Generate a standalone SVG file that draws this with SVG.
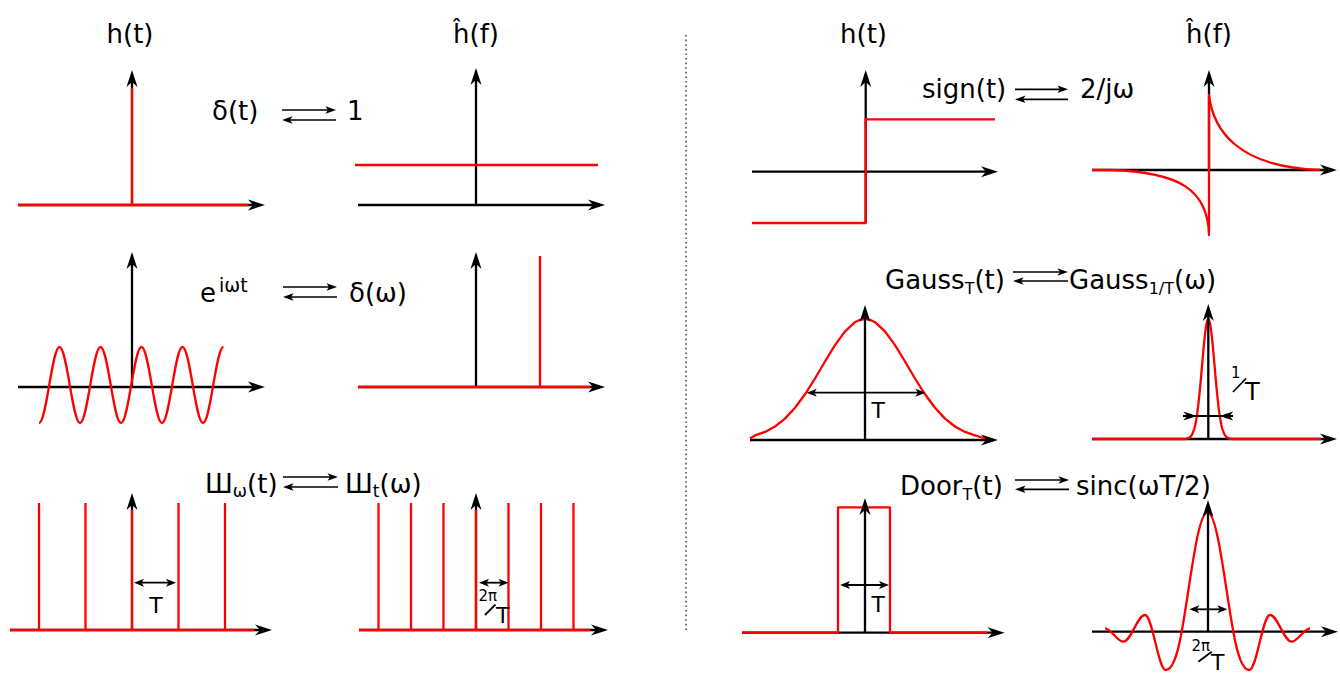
<svg xmlns="http://www.w3.org/2000/svg" width="1340" height="673" viewBox="0 0 1340 673">
<defs>
<style>
.ax{stroke:#000;stroke-width:2.3;fill:none;marker-end:url(#ah)}
.rd{stroke:#ff0000;stroke-width:2.3;fill:none;stroke-linejoin:round}
.dm{stroke:#000;stroke-width:1.8;marker-start:url(#dh);marker-end:url(#dh)}
.cn{stroke:#000;stroke-width:1.7;marker-end:url(#ch)}
.ln{stroke:#000;stroke-width:1.8}
.t{font-family:"DejaVu Sans",sans-serif;font-size:26px;fill:#000}
.s{font-family:"DejaVu Sans",sans-serif;fill:#000}
</style>
<marker id="ah" viewBox="-10 -7 20 14" refX="0" refY="0" markerWidth="20" markerHeight="14" markerUnits="userSpaceOnUse" orient="auto"><path d="M9,0 L-8,-5.5 L-3,0 L-8,5.5 Z" fill="#000"/></marker>
<marker id="ch" viewBox="-8 -5 14 10" refX="0" refY="0" markerWidth="14" markerHeight="10" markerUnits="userSpaceOnUse" orient="auto"><path d="M4,0 L-6.5,-3.8 L-4,0 L-6.5,3.8 Z" fill="#000"/></marker>
<marker id="dh" viewBox="-7 -5 12 10" refX="0" refY="0" markerWidth="12" markerHeight="10" markerUnits="userSpaceOnUse" orient="auto-start-reverse"><path d="M4,0 L-6,-4 L-3.5,0 L-6,4 Z" fill="#000"/></marker>
</defs>
<rect width="1340" height="673" fill="#fff"/>

<line id="divider" x1="686" y1="35" x2="686" y2="632" stroke="#333" stroke-width="1.4" stroke-dasharray="1.6 3"/>

<g id="delta-time">
<line class="ax" x1="18" y1="205" x2="256" y2="205"/>
<line class="ax" x1="132" y1="205" x2="132" y2="79"/>
<path class="rd" d="M18,205 H248 M132,205 V88"/>
<text class="t" x="130" y="43" text-anchor="middle">h(t)</text>
</g>

<g id="delta-freq">
<line class="ax" x1="358" y1="205" x2="596" y2="205"/>
<line class="ax" x1="476" y1="205" x2="476" y2="77"/>
<path class="rd" d="M355,165 H598"/>
<text class="t" x="476" y="43" text-anchor="middle">ĥ(f)</text>
</g>

<g id="exp-time">
<line class="ax" x1="18" y1="387" x2="256" y2="387"/>
<line class="ax" x1="132" y1="387" x2="132" y2="261"/>
<path class="rd" d="M39,423 C46.5,423 52,347 59.5,347 S72.5,423 80,423 S93,347 100.5,347 S113.5,423 121,423 S134,347 141.5,347 S154.5,423 162,423 S175,347 182.5,347 S195.5,423 203,423 S216,347 223.5,347"/>
</g>

<g id="exp-freq">
<line class="ax" x1="358" y1="387" x2="596" y2="387"/>
<line class="ax" x1="476" y1="387" x2="476" y2="261"/>
<path class="rd" d="M358,387 H590 M540,387 V256"/>
</g>

<g id="comb-time">
<line class="ax" x1="10" y1="630" x2="263" y2="630"/>
<line class="ax" x1="132" y1="630" x2="132" y2="502"/>
<path class="rd" d="M10,630 H254 M39,630 V503 M85.5,630 V503 M132,630 V510 M178.5,630 V503 M225,630 V503"/>
<line class="dm" x1="138" y1="582.7" x2="172" y2="582.7"/>
<text class="s" font-size="22" x="156" y="613" text-anchor="middle">T</text>
</g>

<g id="comb-freq">
<line class="ax" x1="359" y1="630" x2="599" y2="630"/>
<line class="ax" x1="476" y1="630" x2="476" y2="502"/>
<path class="rd" d="M359,630 H590 M378.5,630 V503 M411,630 V503 M443.5,630 V503 M476,630 V510 M508.5,630 V503 M541,630 V503 M573.5,630 V503"/>
<line class="dm" x1="483" y1="582.7" x2="504.5" y2="582.7"/>
<text class="s" font-size="15" x="478.5" y="601">2π</text>
<line class="ln" x1="485" y1="615" x2="495.5" y2="604.5"/>
<text class="s" font-size="22" x="496" y="623">T</text>
</g>

<g id="sign-time">
<line class="ax" x1="752" y1="171.7" x2="989" y2="171.7"/>
<line class="ax" x1="865.7" y1="223" x2="865.7" y2="79"/>
<path class="rd" d="M752,223 H865.7 V119.3 H995"/>
<text class="t" x="863.5" y="43" text-anchor="middle">h(t)</text>
</g>

<g id="sign-freq">
<line class="ax" x1="1092" y1="170" x2="1328" y2="170"/>
<line class="ax" x1="1209" y1="170" x2="1209" y2="79"/>
<path class="rd" d="M1092,170 H1110 C1180,172 1208,190 1209,235 V95 C1213,128 1235,167 1320,170"/>
<text class="t" x="1209" y="43" text-anchor="middle">ĥ(f)</text>
</g>

<g id="gauss-time">
<line class="ax" x1="750" y1="440" x2="989" y2="440"/>
<polyline class="rd" points="750,438.5 755,435.4 765,431.9 775,426.5 785,418.6 795,407.8 805,394.3 815,378.5 825,361.5 835,345.1 845,331.4 855,322.2 860,319.8 865,319 870,319.8 875,322.2 885,331.4 895,345.1 905,361.5 915,378.5 925,394.3 935,407.8 945,418.6 955,426.5 965,431.9 975,435.4 985,438.5"/>
<line class="ax" x1="865" y1="440" x2="865" y2="314"/>
<line class="dm" x1="810.7" y1="392.7" x2="921.4" y2="392.7"/>
<text class="s" font-size="22" x="871.5" y="418">T</text>
</g>

<g id="gauss-freq">
<line class="ax" x1="1092" y1="439" x2="1328" y2="439"/>
<path class="rd" d="M1092,439 H1185.3 L1188.3,438.2 L1190.3,437 L1192.3,434.2 L1194.3,428.8 L1195.3,424.7 L1196.3,419.4 L1197.3,412.9 L1198.3,404.9 L1199.3,395.7 L1200.3,385.4 L1201.3,374.3 L1202.3,362.7 L1203.3,351.4 L1204.3,340.9 L1205.3,331.9 L1206.3,324.9 L1207.3,320.5 L1208.3,319 L1209.3,320.5 L1210.3,324.9 L1211.3,331.9 L1212.3,340.9 L1213.3,351.4 L1214.3,362.7 L1215.3,374.3 L1216.3,385.4 L1217.3,395.7 L1218.3,404.9 L1219.3,412.9 L1220.3,419.4 L1221.3,424.7 L1222.3,428.8 L1224.3,434.2 L1226.3,437 L1228.3,438.2 L1231.3,439 H1321"/>
<line class="ax" x1="1208.3" y1="439" x2="1208.3" y2="313"/>
<line class="ln" x1="1183" y1="416" x2="1233" y2="416"/>
<path d="M1197,416 L1183.5,411.5 L1187,416 L1183.5,420.5 Z M1219.6,416 L1233.1,411.5 L1229.6,416 L1233.1,420.5 Z" fill="#000"/>
<text class="s" font-size="15" x="1231" y="378">1</text>
<line class="ln" x1="1233" y1="392" x2="1246" y2="378.5"/>
<text class="s" font-size="24" x="1245" y="400">T</text>
</g>

<g id="door-time">
<line class="ax" x1="742" y1="632.7" x2="995.6" y2="632.7"/>
<path class="rd" d="M742,632.7 H838 V507.3 H890 V632.7 H987"/>
<line class="ax" x1="865" y1="632.7" x2="865" y2="507"/>
<line class="dm" x1="844" y1="585" x2="885" y2="585"/>
<text class="s" font-size="22" x="871.5" y="612">T</text>
</g>

<g id="sinc-freq">
<line class="ax" x1="1092" y1="631.7" x2="1329" y2="631.7"/>
<path class="rd" d="M1105,628.3 C1111,628.5 1117.3,641.7 1123.3,641.7 C1131.1,641.7 1137.2,615 1145,615 C1152.5,615 1158.2,670 1165.7,670 C1171.7,670 1176.7,659.2 1181.7,631.7 C1190.2,584.95 1197.5,512.3 1207.5,512.3 C1217.5,512.3 1224.8,584.95 1233.3,631.7 C1238.3,659.2 1243.3,670 1249.3,670 C1256.8,670 1262.5,615 1270,615 C1277.8,615 1283.9,641.7 1291.7,641.7 C1297.7,641.7 1304,628.5 1310,628.3"/>
<line class="ax" x1="1208" y1="631.7" x2="1208" y2="509"/>
<line class="dm" x1="1193.3" y1="609.3" x2="1223.3" y2="609.3"/>
<text class="s" font-size="15" x="1191.5" y="650.5">2π</text>
<line class="ln" x1="1198.3" y1="661.7" x2="1211.7" y2="651.7"/>
<text class="s" font-size="22" x="1211" y="670">T</text>
</g>

<g id="formulas">
<text class="t" x="212" y="120">δ(t)</text>
<text class="t" x="347" y="119.5">1</text>
<text class="t" x="200" y="302">e</text>
<text class="s" font-size="19" x="219" y="292">iωt</text>
<text class="t" x="349" y="302">δ(ω)</text>
<text class="t" x="205" y="493">Ш<tspan font-size="17" dy="4">ω</tspan><tspan dy="-4">(t)</tspan></text>
<text class="t" x="345" y="493">Ш<tspan font-size="17" dy="4">t</tspan><tspan dy="-4">(ω)</tspan></text>
<text class="t" x="922" y="98">sign(t)</text>
<text class="t" x="1080" y="98">2/jω</text>
<text class="t" x="885" y="289">Gauss<tspan font-size="16" dy="5">T</tspan><tspan dy="-5">(t)</tspan></text>
<text class="t" x="1069" y="289">Gauss<tspan font-size="16" dy="5">1/T</tspan><tspan dy="-5">(ω)</tspan></text>
<text class="t" x="900" y="495">Door<tspan font-size="16" dy="5">T</tspan><tspan dy="-5">(t)</tspan></text>
<text class="t" x="1076" y="495">sinc(ωT/2)</text>
</g>

<g id="connectors">
<line class="cn" x1="282" y1="110" x2="332" y2="110"/>
<line class="cn" x1="336" y1="120" x2="286" y2="120"/>
<line class="cn" x1="283" y1="287" x2="333" y2="287"/>
<line class="cn" x1="337" y1="297" x2="287" y2="297"/>
<line class="cn" x1="283" y1="477" x2="334" y2="477"/>
<line class="cn" x1="338" y1="487" x2="287" y2="487"/>
<line class="cn" x1="1015" y1="89.3" x2="1064" y2="89.3"/>
<line class="cn" x1="1068" y1="99.3" x2="1019" y2="99.3"/>
<line class="cn" x1="1013" y1="272" x2="1064" y2="272"/>
<line class="cn" x1="1068" y1="281" x2="1017" y2="281"/>
<line class="cn" x1="1015" y1="480" x2="1065" y2="480"/>
<line class="cn" x1="1069" y1="489.3" x2="1019" y2="489.3"/>
</g>
</svg>
